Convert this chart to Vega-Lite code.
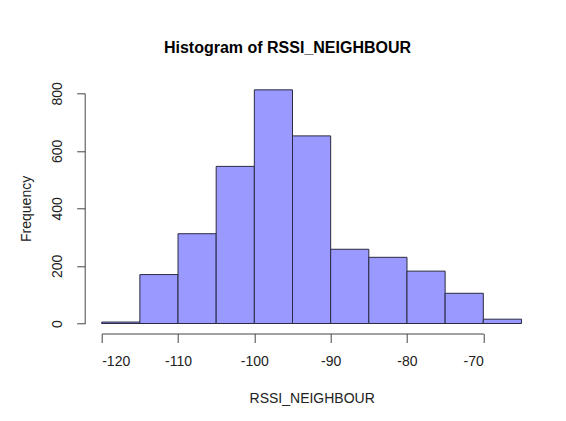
{
  "$schema": "https://vega.github.io/schema/vega-lite/v6.json",
  "width": 381.6,
  "height": 230.2,
  "autosize": "none",
  "padding": {"left": 101.7, "top": 93.3, "right": 82.7, "bottom": 97.5},
  "background": "white",
  "title": {
    "text": "Histogram of RSSI_NEIGHBOUR",
    "font": "Liberation Sans",
    "fontSize": 16,
    "fontWeight": "bold",
    "color": "#000000",
    "anchor": "middle",
    "dx": -5,
    "offset": 26
  },
  "config": {
    "view": {"stroke": null},
    "axis": {
      "labelFont": "Liberation Sans",
      "titleFont": "Liberation Sans",
      "labelFontSize": 14,
      "titleFontSize": 14,
      "titleFontWeight": "normal",
      "labelColor": "#222222",
      "titleColor": "#222222",
      "domainColor": "#444444",
      "tickColor": "#444444",
      "grid": false
    }
  },
  "data": {
    "values": [
      {"bin_start": -120, "bin_end": -115, "count": 5},
      {"bin_start": -115, "bin_end": -110, "count": 170},
      {"bin_start": -110, "bin_end": -105, "count": 312},
      {"bin_start": -105, "bin_end": -100, "count": 546},
      {"bin_start": -100, "bin_end": -95, "count": 812},
      {"bin_start": -95, "bin_end": -90, "count": 652},
      {"bin_start": -90, "bin_end": -85, "count": 258},
      {"bin_start": -85, "bin_end": -80, "count": 230},
      {"bin_start": -80, "bin_end": -75, "count": 182},
      {"bin_start": -75, "bin_end": -70, "count": 105},
      {"bin_start": -70, "bin_end": -65, "count": 15}
    ]
  },
  "mark": {"type": "rect", "fill": "#9999FF", "stroke": "#2a2a40", "strokeWidth": 1, "clip": false},
  "encoding": {
    "x": {
      "field": "bin_start",
      "type": "quantitative",
      "scale": {"domain": [-120, -70], "nice": false, "zero": false},
      "axis": {
        "values": [-120, -110, -100, -90, -80, -70],
        "labelExpr": "'' + datum.value",
        "title": "RSSI_NEIGHBOUR",
        "offset": 10,
        "tickSize": 9,
        "labelPadding": 12,
        "titlePadding": 23,
        "titleX": 210,
        "titleAlign": "center"
      }
    },
    "x2": {"field": "bin_end"},
    "y": {
      "field": "count",
      "type": "quantitative",
      "scale": {"domain": [0, 800], "nice": false},
      "axis": {
        "values": [0, 200, 400, 600, 800],
        "title": "Frequency",
        "offset": 17,
        "tickSize": 8,
        "labelAngle": -90,
        "labelPadding": 12,
        "titlePadding": 17
      }
    }
  }
}
